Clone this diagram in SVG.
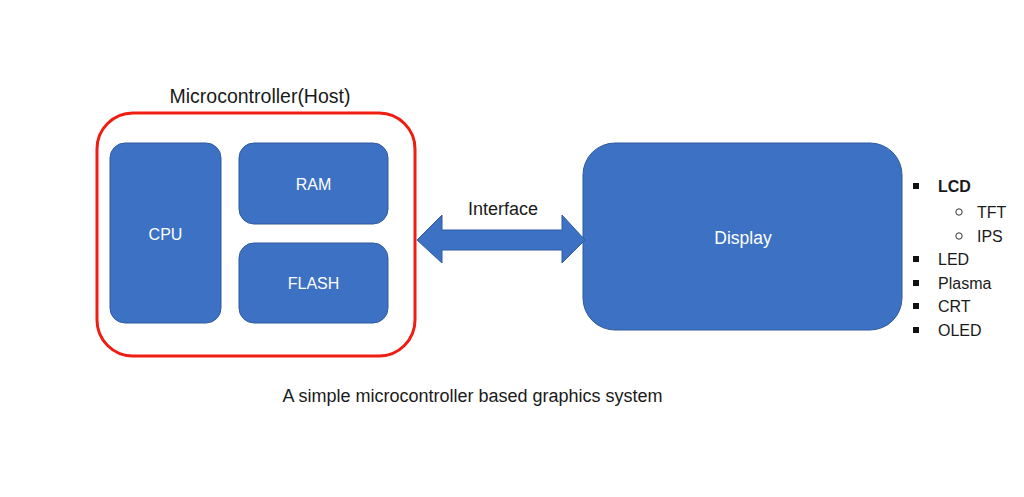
<svg xmlns="http://www.w3.org/2000/svg" width="1024" height="497" viewBox="0 0 1024 497">
<style>
.blk{fill:#3C71C4;stroke:#2F5A9E;stroke-width:1}
.wt{font-family:"Liberation Sans",Arial,sans-serif;font-size:16px;fill:#FFFFFF;text-anchor:middle}
.bt{font-family:"Liberation Sans",Arial,sans-serif;font-size:16px;fill:#1A1A1A}
</style>
<rect width="1024" height="497" fill="#FFFFFF"/>
<g id="host">
<rect x="97" y="113" width="318" height="243" rx="36" ry="36" fill="none" stroke="#F01E12" stroke-width="3"/>
<text x="260" y="103" class="bt" style="text-anchor:middle;font-size:19.5px">Microcontroller(Host)</text>
</g>
<g id="cpu">
<rect x="110" y="143" width="111" height="180" rx="15" class="blk"/>
<text x="165.5" y="240" class="wt">CPU</text>
</g>
<g id="ram">
<rect x="239" y="143" width="149" height="81" rx="15" class="blk"/>
<text x="313.5" y="190" class="wt">RAM</text>
</g>
<g id="flash">
<rect x="239" y="243" width="149" height="80" rx="15" class="blk"/>
<text x="313.5" y="289" class="wt">FLASH</text>
</g>
<g id="display">
<rect x="583" y="143" width="319" height="187" rx="32" class="blk"/>
<text x="743" y="244" class="wt" style="font-size:17.5px">Display</text>
</g>
<g id="connectors">
<polygon points="417,240 442,215 442,230 562,230 562,215 585,240 562,263 562,250 442,250 442,263" class="blk"/>
<text x="503" y="215" class="bt" style="text-anchor:middle;font-size:18px">Interface</text>
</g>
<g id="list">
<rect x="913" y="183" width="6" height="6" fill="#111"/>
<text x="938" y="192" class="bt" font-weight="bold">LCD</text>
<circle cx="959" cy="212" r="3.2" fill="none" stroke="#333" stroke-width="1"/>
<text x="977" y="218" class="bt">TFT</text>
<circle cx="959" cy="236" r="3.2" fill="none" stroke="#333" stroke-width="1"/>
<text x="977" y="242" class="bt">IPS</text>
<rect x="913" y="256" width="6" height="6" fill="#111"/>
<text x="938" y="265" class="bt">LED</text>
<rect x="913" y="280" width="6" height="6" fill="#111"/>
<text x="938" y="289" class="bt">Plasma</text>
<rect x="913" y="303" width="6" height="6" fill="#111"/>
<text x="938" y="312" class="bt">CRT</text>
<rect x="913" y="327" width="6" height="6" fill="#111"/>
<text x="938" y="336" class="bt">OLED</text>
</g>
<text x="472.5" y="402" class="bt" style="text-anchor:middle;font-size:18px">A simple microcontroller based graphics system</text>
</svg>
